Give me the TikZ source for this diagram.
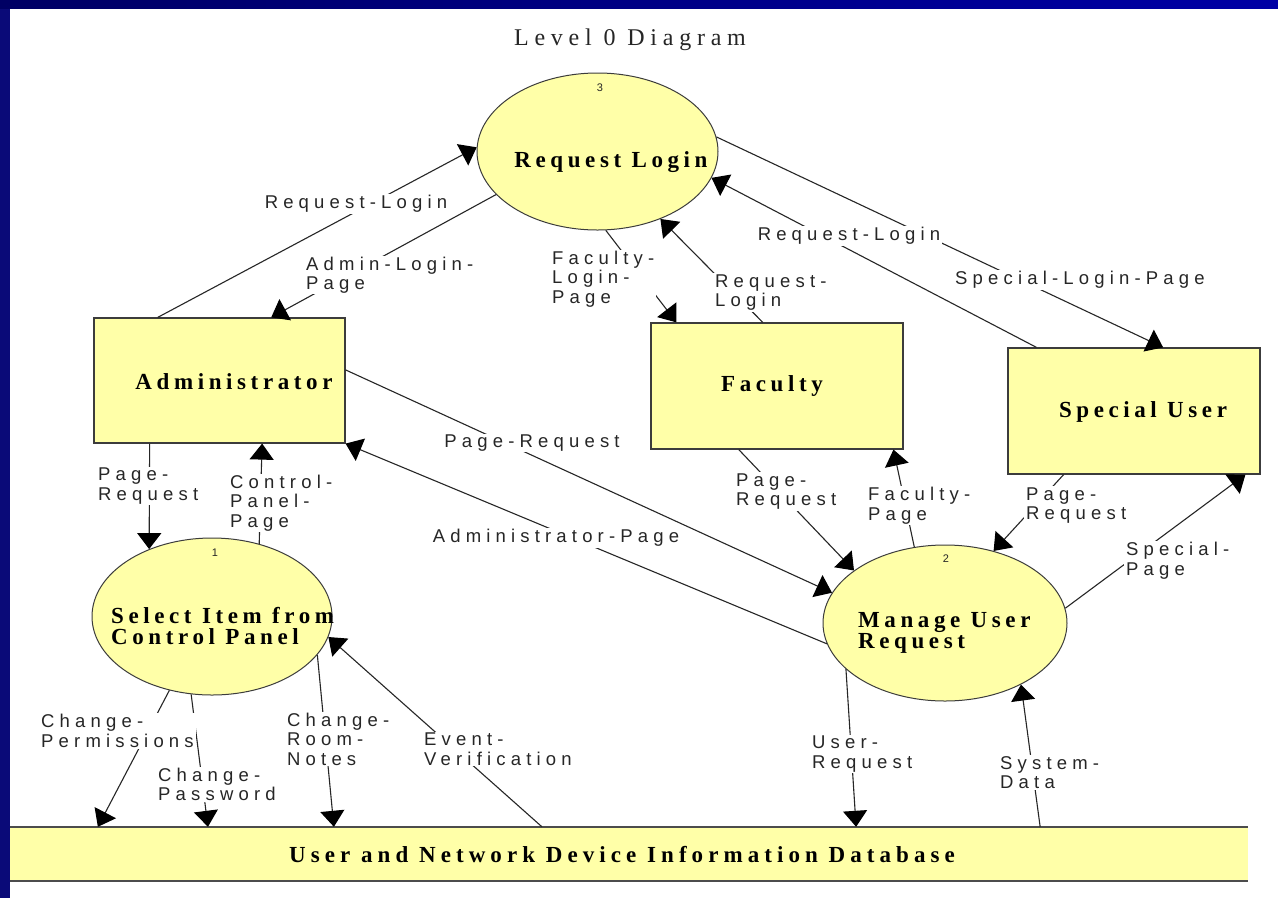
\documentclass[tikz,border=0pt]{standalone}
\usepackage{fontspec}
\setmainfont{Liberation Serif}
\newfontfamily\lblfont[LetterSpace=28]{Liberation Sans}
\newfontfamily\procfont[LetterSpace=20]{Liberation Serif}
\newfontfamily\dbfont[LetterSpace=22]{Liberation Serif}
\newfontfamily\titlefont[LetterSpace=24]{Liberation Serif}
\newfontfamily\numfont{Liberation Sans}
\usetikzlibrary{arrows.meta,shapes.geometric,calc}
\definecolor{pyellow}{HTML}{FFFFA8}
\definecolor{navyA}{RGB}{0,0,100}
\definecolor{navyB}{RGB}{0,0,165}
\definecolor{navyL}{RGB}{10,10,120}
\definecolor{edgec}{HTML}{3C3C3C}
\tikzset{
  proc/.style={ellipse, draw=edgec, line width=1pt, fill=pyellow, inner sep=0pt},
  ent/.style={rectangle, draw=edgec, line width=1.2pt, fill=pyellow, inner sep=0pt},
  flow/.style={draw=black!85, line width=1.1pt, -{Triangle[length=16pt,width=24pt,color=black]}},
  lbl/.style={fill=white, inner xsep=2pt, inner ysep=1pt, align=left, text=black!85,
    font=\lblfont\fontsize{18.5}{19.5}\selectfont},
  ptext/.style={inner sep=0pt, align=left, font=\procfont\bfseries\fontsize{23}{20.5}\selectfont},
  pnum/.style={inner sep=0pt, text=black!85, font=\numfont\fontsize{11}{12}\selectfont},
  dbline/.style={draw=black!70, line width=1.5pt}
}
\begin{document}
\begin{tikzpicture}[x=1pt,y=-1pt]
\useasboundingbox (0,0) rectangle (1278,898);
\fill[white] (0,0) rectangle (1278,898);
\fill[navyL] (0,0) rectangle (10,898);
\shade[left color=navyA, right color=navyB] (0,0) rectangle (1278,8);

\node[inner sep=0pt, text=black!85, font=\titlefont\fontsize{24}{26}\selectfont] (title) at (630,40) {Level 0 Diagram};

% database store
\node[fill=pyellow, draw=none, minimum width=1238pt, minimum height=54pt, inner sep=0pt] (db) at (629,854) {};
\draw[dbline] (db.north west) -- (db.north east);
\draw[dbline] (db.south west) -- (db.south east);
\node[inner sep=0pt, font=\dbfont\bfseries\fontsize{23}{20.5}\selectfont] (dbt) at (622,855) {User and Network Device Information Database};

% processes
\node[proc, minimum width=241pt, minimum height=157pt] (RL) at (597.5,151.5) {};
\node[proc, minimum width=240pt, minimum height=157pt] (SI) at (212,616.5) {};
\node[proc, minimum width=244pt, minimum height=156pt] (MUR) at (945,623) {};
\node[pnum] (n3) at (600,88) {3};
\node[pnum] (n1) at (215,553) {1};
\node[pnum] (n2) at (946,559) {2};
\node[ptext] (RLt) at (611,162) {Request Login};
\node[ptext, anchor=west] (SIt) at (111,626) {Select Item from\\Control Panel};
\node[ptext, anchor=west] (MURt) at (858,633) {Manage User\\Request};

% entities
\node[ent, minimum width=251pt, minimum height=125pt] (adm) at (219.5,380.5) {};
\node[ent, minimum width=252pt, minimum height=126pt] (fac) at (777,386) {};
\node[ent, minimum width=252pt, minimum height=126pt] (spu) at (1134,411) {};
\node[ptext] (admt) at (234,382) {Administrator};
\node[ptext] (fact) at (772,386) {Faculty};
\node[ptext] (sput) at (1143,412) {Special User};

% flows
\draw[flow] ($(adm.north west)!0.255!(adm.north east)$) -- (RL.178);
\draw[flow] (RL.203) -- ($(adm.north west)!0.705!(adm.north east)$);
\draw[flow] (RL.276) -- ($(fac.north west)!0.103!(fac.north east)$);
\draw[flow] ($(fac.north west)!0.444!(fac.north east)$) -- (RL.313);
\draw[flow] (RL.7) -- ($(spu.north west)!0.615!(spu.north east)$);
\draw[flow] ($(spu.north west)!0.115!(spu.north east)$) -- (RL.347);
\draw[flow] ($(adm.north east)!0.416!(adm.south east)$) -- (MUR.165);
\draw[flow] (MUR.190) -- (adm.south east);
\draw[flow] ($(adm.south west)!0.223!(adm.south east)$) -- (SI.133);
\draw[flow] (SI.57) -- ($(adm.south west)!0.669!(adm.south east)$);
\draw[flow] ($(fac.south west)!0.349!(fac.south east)$) -- (MUR.150);
\draw[flow] (MUR.112) -- ($(fac.south west)!0.96!(fac.south east)$);
\draw[flow] ($(spu.south west)!0.222!(spu.south east)$) -- (MUR.56);
\draw[flow] (MUR.7) -- ($(spu.south west)!0.94!(spu.south east)$);
\draw[flow] (SI.240) -- ($(db.north west)!0.0711!(db.north east)$);
\draw[flow] (SI.255) -- ($(db.north west)!0.16!(db.north east)$);
\draw[flow] (SI.340) -- ($(db.north west)!0.2617!(db.north east)$);
\draw[flow] ($(db.north west)!0.4297!(db.north east)$) -- (SI.350);
\draw[flow] (MUR.205) -- ($(db.north west)!0.6834!(db.north east)$);
\draw[flow] ($(db.north west)!0.832!(db.north east)$) -- (MUR.321);

% flow labels
\node[lbl] (l1) at (356,204) {Request-Login};
\node[lbl, anchor=west] (l2) at (304,275) {Admin-Login-\\Page};
\node[lbl, anchor=west] (l3) at (550,279) {Faculty-\\Login-\\Page};
\node[lbl, anchor=west] (l4) at (713,292.5) {Request-\\Login};
\node[lbl] (l5) at (849,236) {Request-Login};
\node[lbl] (l6) at (1080,280) {Special-Login-Page};
\node[lbl] (l7) at (532,443) {Page-Request};
\node[lbl] (l8) at (556,538) {Administrator-Page};
\node[lbl, anchor=west] (l9) at (96,486) {Page-\\Request};
\node[lbl, anchor=west] (l10) at (228,503) {Control-\\Panel-\\Page};
\node[lbl, anchor=west] (l11) at (734,491.5) {Page-\\Request};
\node[lbl, anchor=west] (l12) at (866,505.5) {Faculty-\\Page};
\node[lbl, anchor=west] (l13) at (1024,505.5) {Page-\\Request};
\node[lbl, anchor=west] (l14) at (1124,560.5) {Special-\\Page};
\node[lbl, anchor=west] (l15) at (39,731) {Change-\\Permissions};
\node[lbl, anchor=west] (l16) at (156,784.5) {Change-\\Password};
\node[lbl, anchor=west] (l17) at (285,739) {Change-\\Room-\\Notes};
\node[lbl, anchor=west] (l18) at (422,749) {Event-\\Verification};
\node[lbl, anchor=west] (l19) at (810,754) {User-\\Request};
\node[lbl, anchor=west] (l20) at (998,772.5) {System-\\Data};
\end{tikzpicture}
\end{document}
